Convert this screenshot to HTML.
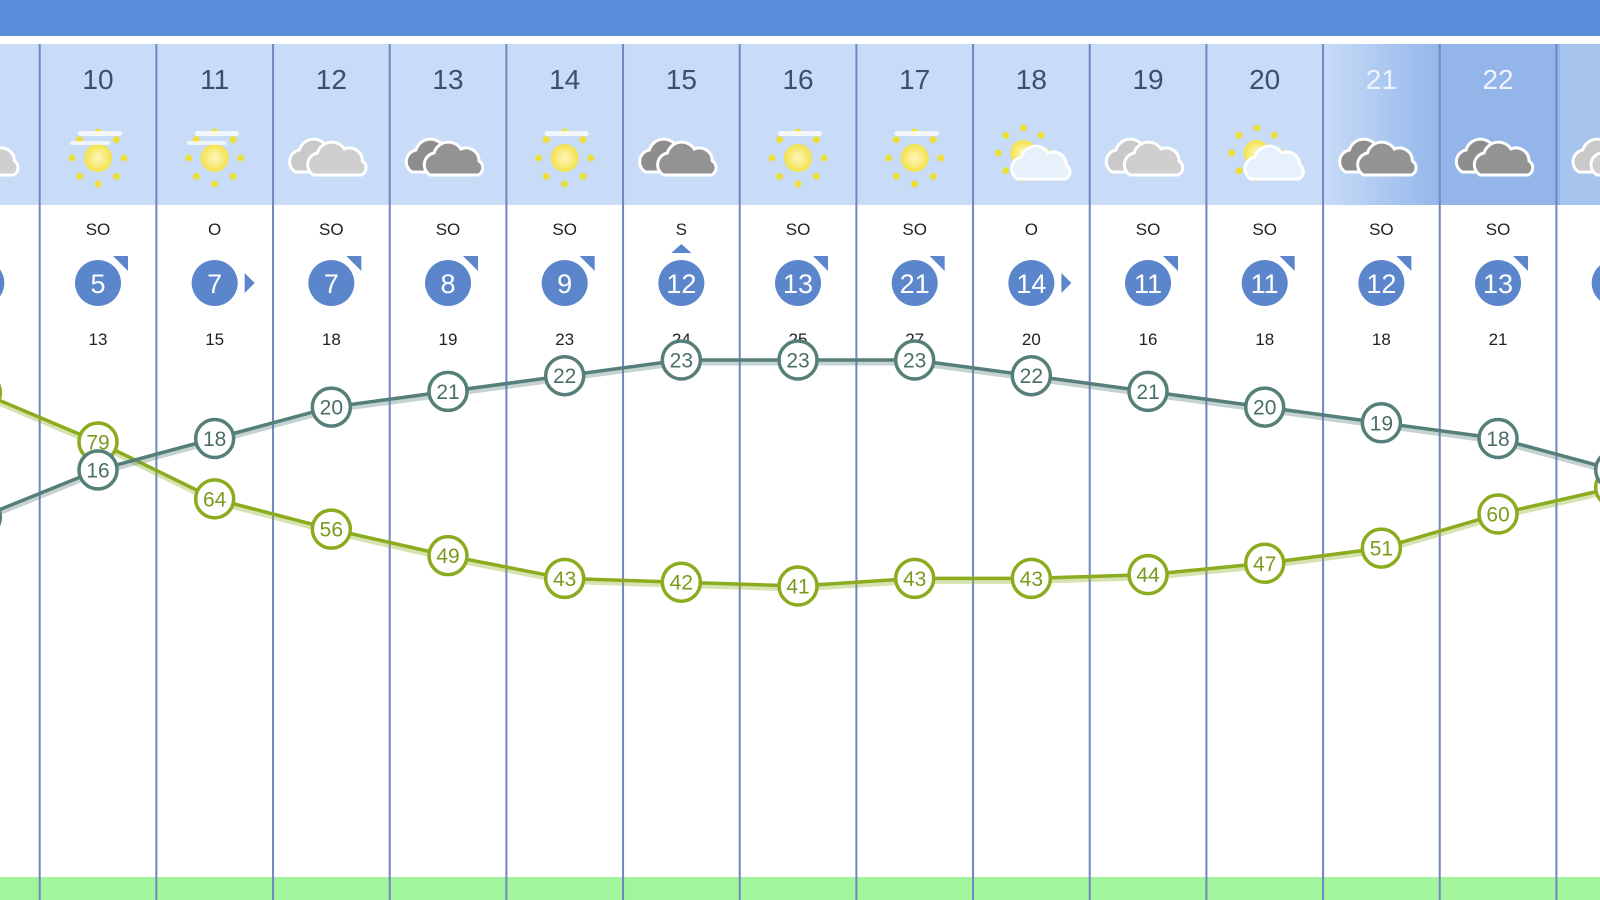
<!DOCTYPE html>
<html><head><meta charset="utf-8"><style>
html,body{margin:0;padding:0;width:1600px;height:900px;overflow:hidden;background:#fff}
svg{display:block;font-family:"Liberation Sans","DejaVu Sans",sans-serif}
</style></head><body>
<svg id="s" width="1600" height="900" viewBox="0 0 1600 900" xmlns="http://www.w3.org/2000/svg">
<defs>
<linearGradient id="g21" x1="0" x2="1" y1="0" y2="0"><stop offset="0" stop-color="#c6dbf7"/><stop offset="1" stop-color="#92b5ea"/></linearGradient>
<radialGradient id="sun"><stop offset="0" stop-color="#fff6c0"/><stop offset="1" stop-color="#f3e24a"/></radialGradient>
</defs>
<rect x="0" y="0" width="1600" height="36" fill="#5b8fdc"/>
<rect x="0" y="36" width="1600" height="8" fill="#ffffff"/>
<rect x="0" y="44" width="1600" height="161" fill="#c8dcf8"/>
<rect x="1326" y="44" width="117" height="161" fill="url(#g21)"/>
<rect x="1443" y="44" width="117" height="161" fill="#93b5ea"/>
<rect x="1560" y="44" width="40" height="161" fill="#a7c4ef"/>
<rect x="0" y="877" width="1600" height="23" fill="#a3f59d"/>
<g id="cols"></g>
<g id="lines"></g>
</svg>
<script>
const s=document.getElementById('cols'),L=document.getElementById('lines');
const NS="http://www.w3.org/2000/svg";
let h='';
const cx=i=>98+(i-10)*116.67;
const days=[10,11,12,13,14,15,16,17,18,19,20,21,22];
const icons=['haze','haze','light','dark','sun','dark','sun','sun','suncloud','light','suncloud','dark','dark'];
const dirs=['SO','O','SO','SO','SO','S','SO','SO','O','SO','SO','SO','SO'];
const ws=[5,7,7,8,9,12,13,21,14,11,11,12,13];
const gust=[13,15,18,19,23,24,25,27,20,16,18,18,21];
for(let i=9;i<=24;i++){const x=cx(i)-58.3;h+=`<line x1="${x}" y1="44" x2="${x}" y2="900" stroke="#6f86c0" stroke-width="2"/>`;}
function sun(x,y,r){let o='';for(let k=0;k<8;k++){const a=k*Math.PI/4;o+=`<circle cx="${x+Math.cos(a)*(r+12)}" cy="${y+Math.sin(a)*(r+12)}" r="3.5" fill="#ecdf3a"/>`;}return o+`<circle cx="${x}" cy="${y}" r="${r}" fill="url(#sun)"/>`;}
function cloud(x,y,c){return `<g fill="${c}" stroke="#fff" stroke-width="3"><path d="M${x-28} ${y+14} a12 12 0 0 1 4 -22 a15 15 0 0 1 27 -4 a13 13 0 0 1 18 12 a8 8 0 0 1 -1 14 z"/></g>`;}
function icon(t,x,y){
 if(t=='haze')return sun(x,y+3,14)+`<rect x="${x-20}" y="${y-24}" width="44" height="5" rx="2.5" fill="#fff" opacity=".8"/><rect x="${x-28}" y="${y-14}" width="40" height="4" rx="2" fill="#fff" opacity=".7"/>`;
 if(t=='sun')return sun(x,y+3,14)+`<rect x="${x-20}" y="${y-24}" width="44" height="5" rx="2.5" fill="#fff" opacity=".8"/>`;
 if(t=='light')return cloud(x-8,y+3,'#c9c9c9')+cloud(x+10,y+6,'#cfcfcf');
 if(t=='dark')return cloud(x-8,y+3,'#8d8d8d')+cloud(x+10,y+6,'#939393');
 if(t=='suncloud')return sun(x-8,y-2,13)+cloud(x+14,y+10,'#e6f1fb');
}
h+=icon('light',cx(9)+2,155)+icon('light',cx(23),155);
days.forEach((d,j)=>{const x=cx(d);
 const col=d>=21?'#eef4fd':'#3b4f6f';
 h+=`<text x="${x}" y="89" font-size="28" fill="${col}" text-anchor="middle">${d}</text>`;
 h+=icon(icons[j],x,155);
 h+=`<text x="${x}" y="235" font-size="17" fill="#222" text-anchor="middle">${dirs[j]}</text>`;
 h+=`<circle cx="${x}" cy="283" r="23" fill="#5b86cc"/>`;
 h+=`<text x="${x}" y="293" font-size="27" fill="#fff" text-anchor="middle">${ws[j]}</text>`;
 if(dirs[j]=='SO')h+=`<polygon points="${x+15},${256} ${x+30},${256} ${x+30},${271}" fill="#5b86cc"/>`;
 else if(dirs[j]=='O')h+=`<polygon points="${x+30},${273} ${x+40},${283} ${x+30},${293}" fill="#5b86cc"/>`;
 else h+=`<polygon points="${x-10},${253} ${x},${244} ${x+10},${253}" fill="#5b86cc"/>`;
 h+=`<text x="${x}" y="345" font-size="17" fill="#222" text-anchor="middle">${gust[j]}</text>`;
});
h+=`<circle cx="${cx(9)}" cy="283" r="23" fill="#5b86cc"/><circle cx="${cx(23)}" cy="283" r="23" fill="#5b86cc"/>`;
s.innerHTML=h;
const T=[13,16,18,20,21,22,23,23,23,22,21,20,19,18,16];
const H=[92,79,64,56,49,43,42,41,43,43,44,47,51,60,67];
const ty=t=>360+(23-t)*15.7, hy=v=>586-(v-41)*3.79;
function series(arr,fy,col,fill){let p=arr.map((v,k)=>`${cx(9+k)},${fy(v)}`).join(' ');
 let o=`<polyline points="${p}" fill="none" stroke="${col}" stroke-width="5" opacity=".35" transform="translate(0,3)"/><polyline points="${p}" fill="none" stroke="${col}" stroke-width="3.5"/>`;
 arr.forEach((v,k)=>{const x=cx(9+k),y=fy(v);o+=`<circle cx="${x}" cy="${y}" r="19" fill="#fff" stroke="${col}" stroke-width="3.5"/><text x="${x}" y="${y+7.5}" font-size="21" fill="${fill}" text-anchor="middle">${v}</text>`;});
 return o;}
L.innerHTML=series(H,hy,'#8aac1e','#7a9a1c')+series(T,ty,'#557f78','#496e68');
</script>
</body></html>
